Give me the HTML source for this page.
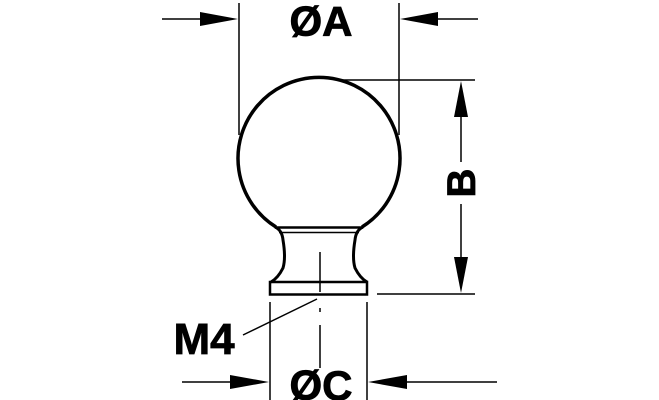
<!DOCTYPE html>
<html><head><meta charset="utf-8"><style>
html,body{margin:0;padding:0;background:#fff;}
svg{display:block}
text{font-family:"Liberation Sans",sans-serif;font-weight:bold;fill:#000}
</style></head><body>
<svg width="659" height="400" viewBox="0 0 659 400" xmlns="http://www.w3.org/2000/svg">
<g stroke="#000" fill="none">
<path d="M276,227 A81,81 0 1 1 362,227" stroke-width="3.5"/>
<path d="M275,227 Q282,230 283,240 Q286,258 283,268 Q278,278 271,282" stroke-width="3"/>
<path d="M363,227 Q356,230 355,240 Q352,258 355,268 Q360,278 367,282" stroke-width="3"/>
<line x1="275" y1="227.5" x2="363" y2="227.5" stroke-width="2.5"/>
<line x1="279" y1="232.5" x2="359" y2="232.5" stroke-width="1.5"/>
<rect x="270" y="282" width="97" height="12.5" stroke-width="2.5"/>
<line x1="320" y1="252" x2="320" y2="292" stroke-width="1.5"/>
<line x1="320" y1="308" x2="320" y2="312" stroke-width="1.5"/>
<line x1="320" y1="325" x2="320" y2="368" stroke-width="1.5"/>
<line x1="243" y1="335" x2="317" y2="299" stroke-width="1.5"/>
<line x1="239" y1="3" x2="239" y2="135" stroke-width="1.5"/>
<line x1="399" y1="3" x2="399" y2="135" stroke-width="1.5"/>
<line x1="162" y1="19" x2="210" y2="19" stroke-width="1.5"/>
<line x1="430" y1="19" x2="478" y2="19" stroke-width="1.5"/>
<line x1="338" y1="80" x2="475" y2="80" stroke-width="1.5"/>
<line x1="377" y1="294" x2="475" y2="294" stroke-width="1.5"/>
<line x1="461" y1="110" x2="461" y2="162" stroke-width="1.5"/>
<line x1="461" y1="204" x2="461" y2="265" stroke-width="1.5"/>
<line x1="270" y1="302" x2="270" y2="400" stroke-width="1.5"/>
<line x1="367" y1="302" x2="367" y2="400" stroke-width="1.5"/>
<line x1="182" y1="382" x2="235" y2="382" stroke-width="1.5"/>
<line x1="400" y1="382" x2="497" y2="382" stroke-width="1.5"/>
</g>
<g fill="#000">
<polygon points="238,19 200,12 200,26"/>
<polygon points="400,19 438,12 438,26"/>
<polygon points="461,81 454,117 468,117"/>
<polygon points="461,293 454,257 468,257"/>
<polygon points="269,382 230,375 230,389"/>
<polygon points="368,382 407,375 407,389"/>
</g>
<text x="321" y="36" font-size="42" text-anchor="middle" stroke="#000" stroke-width="0.8">ØA</text>
<text x="321" y="400" font-size="42" text-anchor="middle" stroke="#000" stroke-width="0.8">ØC</text>
<text x="204" y="354" font-size="44" text-anchor="middle" stroke="#000" stroke-width="0.8">M4</text>
<text transform="translate(475,183) rotate(-90)" font-size="40" text-anchor="middle" stroke="#000" stroke-width="0.8">B</text>
</svg>
</body></html>
